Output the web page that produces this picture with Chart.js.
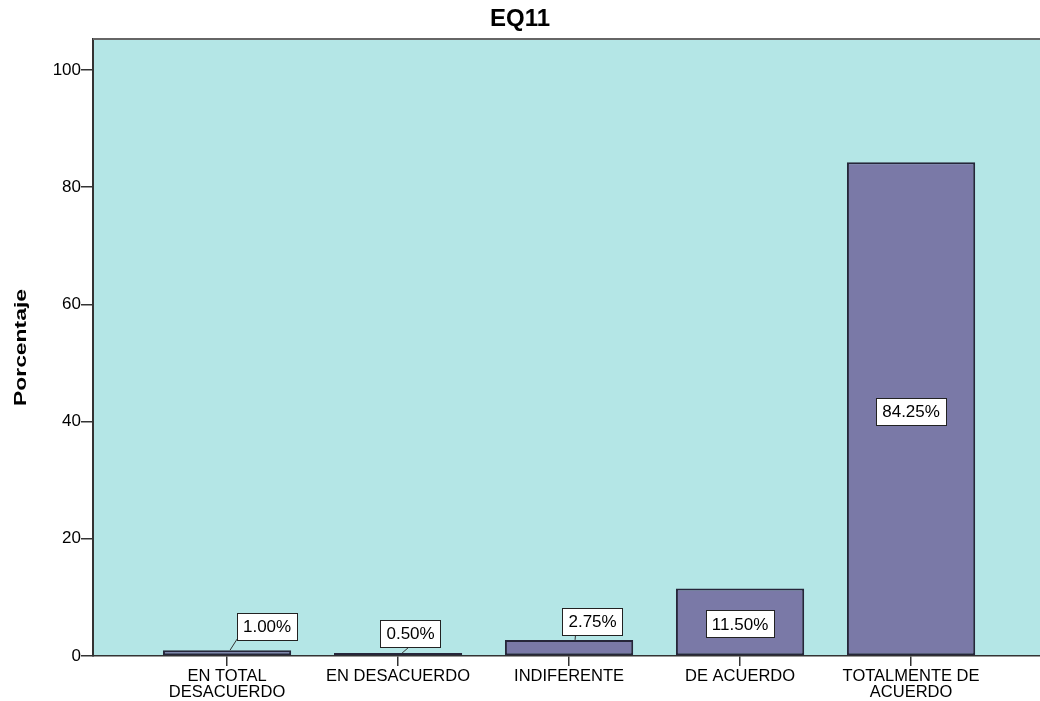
<!DOCTYPE html>
<html><head><meta charset="utf-8">
<script src="https://cdn.jsdelivr.net/npm/chart.js@4.4.1/dist/chart.umd.min.js"></script>
<style>html,body{margin:0;padding:0;background:#fff;overflow:hidden}</style>
</head><body>
<canvas id="c" width="1040" height="701"></canvas>
<script>
const titleText = 'EQ11';
const yTitleText = 'Porcentaje';
const categories = [['EN TOTAL','DESACUERDO'], 'EN DESACUERDO', 'INDIFERENTE', 'DE ACUERDO', ['TOTALMENTE DE','ACUERDO']];
const percentages = [1.00, 0.50, 2.75, 11.50, 84.25];
const valueLabels = ['1.00%', '0.50%', '2.75%', '11.50%', '84.25%'];
const yTickValues = [0, 20, 40, 60, 80, 100];

const FONT = "'Liberation Sans', Arial, sans-serif";

const bgPlugin = {
  id: 'bg',
  beforeDraw(chart) {
    const a = chart.chartArea, ctx = chart.ctx;
    ctx.save();
    ctx.fillStyle = '#b4e6e6';
    ctx.fillRect(a.left, a.top, a.right - a.left, a.bottom - a.top);
    ctx.restore();
  },
  afterDraw(chart) {
    const a = chart.chartArea, ctx = chart.ctx;
    ctx.save();
    ctx.strokeStyle = '#666';
    ctx.lineWidth = 2;
    ctx.beginPath();
    ctx.moveTo(a.left, a.top);
    ctx.lineTo(a.right, a.top);
    ctx.stroke();
    ctx.restore();
  }
};

const yTitlePlugin = {
  id: 'yTitle',
  afterDraw(chart) {
    const a = chart.chartArea, ctx = chart.ctx;
    ctx.save();
    ctx.translate(26, (a.top + a.bottom) / 2);
    ctx.rotate(-Math.PI / 2);
    ctx.scale(1.43, 1);
    ctx.font = "bold 16px " + FONT;
    ctx.fillStyle = '#000';
    ctx.textAlign = 'center';
    ctx.textBaseline = 'alphabetic';
    ctx.fillText(yTitleText, 0, 0);
    ctx.restore();
  }
};

const labelPlugin = {
  id: 'valLabels',
  afterDatasetsDraw(chart, args, opts) {
    const ctx = chart.ctx;
    const meta = chart.getDatasetMeta(0);
    ctx.save();
    ctx.font = "17px " + FONT;
    ctx.textAlign = 'center';
    ctx.textBaseline = 'middle';
    meta.data.forEach((bar, i) => {
      const p = opts.placement[i];
      const text = valueLabels[i];
      let cx, cy;
      if (p.mode === 'center') {
        cx = bar.x; cy = (bar.y + bar.base) / 2 + p.dy;
      } else {
        cx = bar.x + p.dx; cy = bar.y + p.dy;
      }
      const w = ctx.measureText(text).width + 12;
      const h = 27;
      if (p.leader) {
        ctx.strokeStyle = '#333';
        ctx.lineWidth = 1;
        ctx.beginPath();
        ctx.moveTo(bar.x + p.leader[0], bar.y);
        ctx.lineTo(cx + p.leader[1], cy + p.leader[2]);
        ctx.stroke();
      }
      ctx.fillStyle = '#fff';
      ctx.fillRect(Math.round(cx - w / 2) + 0.5, Math.round(cy - h / 2) + 0.5, Math.round(w), h);
      ctx.strokeStyle = '#222';
      ctx.lineWidth = 1;
      ctx.strokeRect(Math.round(cx - w / 2) + 0.5, Math.round(cy - h / 2) + 0.5, Math.round(w), h);
      ctx.fillStyle = '#000';
      ctx.fillText(text, cx, cy + 1);
    });
    ctx.restore();
  }
};

new Chart(document.getElementById('c'), {
  type: 'bar',
  data: {
    datasets: [{
      data: percentages.map((v, i) => ({ x: i, y: v })),
      backgroundColor: '#7a79a7',
      borderColor: '#26263a',
      borderWidth: 2,
      borderSkipped: false,
      barPercentage: 0.75,
      categoryPercentage: 1.0
    }]
  },
  options: {
    responsive: false,
    animation: false,
    devicePixelRatio: 1,
    layout: { padding: { left: 0, right: 0, top: 0, bottom: 0 } },
    plugins: {
      legend: { display: false },
      tooltip: { enabled: false },
      title: {
        display: true,
        text: titleText,
        color: '#000',
        font: { family: FONT, size: 24, weight: 'bold', lineHeight: 1.2 },
        padding: { top: 5, bottom: 5.2 }
      },
      valLabels: {
        placement: [
          { mode: 'side', dx: 40, dy: -24, leader: [3, -30, 13] },
          { mode: 'side', dx: 12.5, dy: -19.5, leader: [4, -1, 13] },
          { mode: 'side', dx: 23.5, dy: -18.5, leader: [6, -17, 13] },
          { mode: 'center', dy: 2 },
          { mode: 'center', dy: 3 }
        ]
      }
    },
    scales: {
      x: {
        type: 'linear',
        offset: false,
        min: -0.784,
        max: 4.754,
        afterBuildTicks(scale) { scale.ticks = categories.map((_, i) => ({ value: i })); },
        afterFit(scale) { scale.height = 45; },
        ticks: {
          autoSkip: false,
          maxRotation: 0,
          minRotation: 0,
          padding: 2,
          color: '#000',
          font: { family: FONT, size: 16.5, lineHeight: 1.0 },
          callback: (v) => categories[v]
        },
        grid: { offset: false, drawOnChartArea: false, drawTicks: true, tickLength: 10, color: '#333', lineWidth: 1.5 },
        border: { display: true, color: '#333', width: 1.5 }
      },
      y: {
        min: 0,
        max: 105.3,
        afterBuildTicks(scale) { scale.ticks = yTickValues.map(v => ({ value: v })); },
        afterFit(scale) { scale.width = 93; },
        ticks: {
          padding: 0,
          color: '#000',
          font: { family: FONT, size: 17 }
        },
        grid: { drawOnChartArea: false, drawTicks: true, tickLength: 12, color: '#333', lineWidth: 1.5 },
        border: { display: true, color: '#333', width: 2 }
      }
    }
  },
  plugins: [bgPlugin, yTitlePlugin, labelPlugin]
});
</script>
</body></html>
